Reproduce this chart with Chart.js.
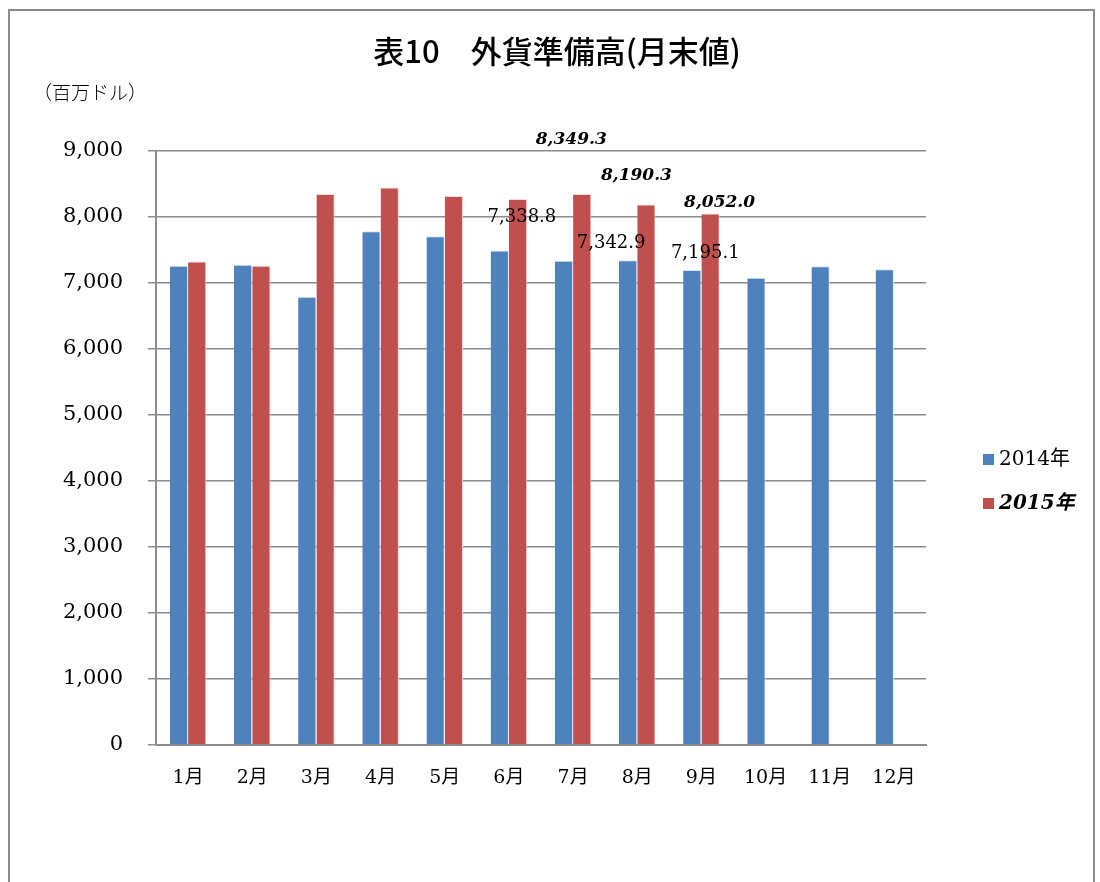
<!DOCTYPE html>
<html>
<head>
<meta charset="utf-8">
<script src="https://cdn.jsdelivr.net/npm/chart.js@4"></script>
<style>
  html, body { margin: 0; padding: 0; background: #fff; }
  #wrap { position: absolute; left: 0; top: 0; width: 1100px; height: 882px; }
  #frame { position: absolute; left: 8px; top: 9px; width: 1087px; height: 900px; border: 2px solid #8c8c8c; box-sizing: border-box; }
</style>
</head>
<body>
<div id="wrap">
  <div id="frame"></div>
  <canvas id="barChart" width="1100" height="882"></canvas>
</div>
<script>
var months = ['1月', '2月', '3月', '4月', '5月', '6月', '7月', '8月', '9月', '10月', '11月', '12月'];
var yearLabels = ['2014年', '2015年'];
var reserves2014 = [7261, 7276, 6793, 7783, 7709, 7492, 7338.8, 7342.9, 7195.1, 7081, 7253, 7207];
var reserves2015 = [7326, 7260, 8347, 8447, 8317, 8273, 8349.3, 8190.3, 8052.0];
var labelledMonths = [6, 7, 8];   // 7月〜9月に数値ラベル
var yTicks = [0, 1000, 2000, 3000, 4000, 5000, 6000, 7000, 8000, 9000];

var serif = '"DejaVu Serif", "Liberation Serif", "Noto Sans CJK JP", serif';

// ラベルの位置ずらし (棒の中心・上端から px)
var labelShift = [
    [[-42, -43], [-17, -17], [13, -17]],
    [[-11, -54], [-10, -29], [9, -11]]
];

var extras = {
    id: 'extras',
    afterDatasetsDraw: function (chart) {
        var ctx = chart.ctx;
        ctx.save();
        ctx.textAlign = 'center';
        ctx.textBaseline = 'middle';
        chart.data.datasets.forEach(function (ds, di) {
            var meta = chart.getDatasetMeta(di);
            labelledMonths.forEach(function (mi, k) {
                var bar = meta.data[mi];
                if (!bar || ds.data[mi] == null) return;
                ctx.font = di === 0 ? '18px ' + serif : 'italic bold 17px ' + serif;
                ctx.fillStyle = '#000';
                var txt = ds.data[mi].toLocaleString('en-US', { minimumFractionDigits: 1, maximumFractionDigits: 1 });
                ctx.fillText(txt, bar.x + labelShift[di][k][0], bar.y + labelShift[di][k][1]);
            });
        });
        ctx.restore();
    },
    afterDraw: function (chart) {
        var ctx = chart.ctx;
        ctx.save();
        ctx.fillStyle = '#000';
        ctx.textBaseline = 'middle';
        ctx.textAlign = 'center';
        ctx.font = '500 31px "Noto Sans CJK JP", sans-serif';
        ctx.fillText('表10　外貨準備高(月末値)', 557, 51);
        ctx.textAlign = 'left';
        ctx.font = '300 19px "Noto Sans CJK JP", sans-serif';
        ctx.fillText('（百万ドル）', 33, 93);

        // 凡例
        chart.data.datasets.forEach(function (ds, i) {
            var y = 460 + i * 44;
            ctx.fillStyle = ds.backgroundColor;
            ctx.fillRect(983, y - 6, 11, 11);
            ctx.fillStyle = '#000';
            ctx.font = i === 0 ? '20px ' + serif : 'italic bold 20px ' + serif;
            ctx.fillText(ds.label, 999, y);
        });
        ctx.restore();
    }
};

var config = {
    type: 'bar',
    data: {
        labels: months,
        datasets: [{
            label: yearLabels[0],
            backgroundColor: '#4f81bd',
            borderColor: '#dce6f2',
            borderWidth: { left: 0, top: 1, right: 1, bottom: 0 },
            data: reserves2014
        }, {
            label: yearLabels[1],
            backgroundColor: '#c0504d',
            borderColor: '#f2dcdb',
            borderWidth: { left: 0, top: 1, right: 1, bottom: 0 },
            data: reserves2015
        }]
    },
    options: {
        responsive: false,
        animation: false,
        events: [],
        layout: { padding: { left: 0, top: 151, right: 174, bottom: 0 } },
        datasets: { bar: { categoryPercentage: 0.57, barPercentage: 1 } },
        plugins: {
            legend: { display: false },
            title: { display: false },
            tooltip: { enabled: false }
        },
        scales: {
            x: {
                grid: { display: false, drawTicks: false },
                border: { color: '#8c8c8c', width: 2 },
                ticks: { color: '#000', padding: 22, maxRotation: 0, font: { family: serif, size: 19 } },
                afterFit: function (s) { s.height = 137; }
            },
            y: {
                min: 0,
                max: 9000,
                afterBuildTicks: function (s) { s.ticks = yTicks.map(function (v) { return { value: v }; }); },
                grid: { color: '#8c8c8c', lineWidth: 1.5, tickLength: 8 },
                border: { color: '#8c8c8c', width: 2 },
                ticks: {
                    color: '#000',
                    padding: 25,
                    font: { family: serif, size: 21 },
                    callback: function (v) { return v.toLocaleString('en-US'); }
                },
                afterFit: function (s) { s.width = 156; }
            }
        }
    },
    plugins: [extras]
};

var barChart = new Chart(document.getElementById('barChart'), config);
</script>
</body>
</html>
